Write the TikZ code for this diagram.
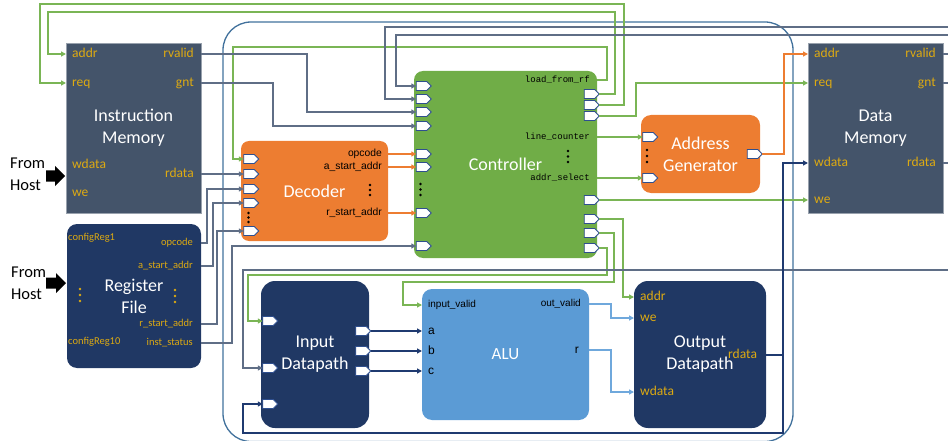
\documentclass[tikz,border=0pt]{standalone}
\usepackage{fontspec}
\setmainfont{Carlito}
\newfontfamily\arialf{Liberation Sans}
\newfontfamily\monof{Liberation Mono}
\usetikzlibrary{shapes.symbols,arrows.meta}
\definecolor{slateblk}{HTML}{44546A}
\definecolor{navyblk}{HTML}{203864}
\definecolor{orangeblk}{HTML}{ED7D31}
\definecolor{greenblk}{HTML}{70AD47}
\definecolor{alublk}{HTML}{5B9BD5}
\definecolor{goldtxt}{HTML}{DDAA12}
\definecolor{outerblue}{HTML}{41719C}
\definecolor{portedge}{HTML}{2F4F8F}
\definecolor{gconn}{HTML}{7AB555}
\definecolor{sconn}{HTML}{5F6E86}
\definecolor{oconn}{HTML}{ED7D31}
\definecolor{nconn}{HTML}{1F3A70}
\definecolor{bconn}{HTML}{6FA8DC}
\begin{document}
\begin{tikzpicture}[x=1pt,y=-1pt,
  blk/.style={inner sep=0pt, outer sep=0pt, text=white, align=center, font=\fontsize{18}{22}\selectfont},
  lbl/.style={text=goldtxt, inner sep=0pt, text height=9.5pt, text depth=3pt, font=\fontsize{13.5}{15}\selectfont},
  rflbl/.style={text=goldtxt, inner sep=0pt, text height=7.4pt, text depth=2.3pt, font=\fontsize{10.5}{12}\selectfont},
  declbl/.style={inner sep=0pt, text height=8pt, text depth=2.6pt, font=\arialf\fontsize{10.3}{12}\selectfont},
  ctllbl/.style={inner sep=0pt, text height=7pt, text depth=2.2pt, font=\monof\fontsize{9}{11}\selectfont},
  alulbl/.style={inner sep=0pt, text height=8pt, text depth=2.6pt, font=\arialf\fontsize{10}{12}\selectfont},
  alupin/.style={inner sep=0pt, text height=9pt, text depth=2.8pt, font=\arialf\fontsize{12}{14}\selectfont},
  hostlbl/.style={inner sep=0pt, align=left, font=\fontsize{16.5}{22}\selectfont},
  port/.style={shape=signal, signal to=east, draw=portedge, fill=white, line width=0.9pt,
    minimum width=15pt, minimum height=9pt, inner sep=0pt, outer sep=0pt},
  cg/.style={draw=gconn, line width=1.2pt},
  cs/.style={draw=sconn, line width=1.2pt},
  co/.style={draw=oconn, line width=1.2pt},
  cn/.style={draw=nconn, line width=1.6pt},
  cb/.style={draw=bconn, line width=1.2pt},
  arr/.style={-{Triangle[length=5pt,width=5pt]}},
  dotk/.style={fill=black},
  dotg/.style={fill=goldtxt}
]
\useasboundingbox (0,0) rectangle (948,441);

% outer frame
\draw[outerblue, line width=1.3pt, rounded corners=28pt] (223,22) rectangle (793,441.5);

% blocks
\node[blk, fill=slateblk, draw=slateblk!55!white, line width=0.8pt, minimum width=135pt, minimum height=170pt] (im) at (133.5,128) {Instruction\\Memory};
\node[blk, fill=slateblk, draw=slateblk!55!white, line width=0.8pt, minimum width=135pt, minimum height=170pt] (dm) at (875.5,128) {Data\\Memory};
\node[blk, fill=navyblk, rounded corners=10pt, minimum width=134pt, minimum height=144pt] (rf) at (134,296) {Register\\File};
\node[blk, fill=orangeblk, rounded corners=8pt, minimum width=147pt, minimum height=100pt] (dec) at (314.5,191) {Decoder};
\node[blk, fill=greenblk, rounded corners=9pt, minimum width=183pt, minimum height=187pt] (ctl) at (505.5,164.5) {Controller};
\node[blk, fill=orangeblk, rounded corners=10pt, minimum width=119pt, minimum height=78pt] (ag) at (700.5,154) {Address\\Generator};
\node[blk, fill=navyblk, rounded corners=14pt, minimum width=108pt, minimum height=147pt] (idp) at (315,354.5) {Input\\Datapath};
\node[blk, fill=alublk, rounded corners=10pt, minimum width=167pt, minimum height=131pt, font=\fontsize{17}{20}\selectfont] (alu) at (505.5,354.5) {ALU};
\node[blk, fill=navyblk, rounded corners=14pt, minimum width=132pt, minimum height=147pt] (odp) at (700,354.5) {Output\\Datapath};

% From Host
\node[hostlbl, anchor=west] (host1) at (10,174) {From\\Host};
\node[hostlbl, anchor=west] (host2) at (11,283) {From\\Host};
\fill[black] (46,170.5) -- (55,170.5) -- (55,166) -- (65,176) -- (55,186) -- (55,181.5) -- (46,181.5) -- cycle;
\fill[black] (46,277.5) -- (56,277.5) -- (56,273) -- (66,283) -- (56,293) -- (56,288.5) -- (46,288.5) -- cycle;

% IM labels
\node[lbl, anchor=west] (imaddr) at (72,54) {addr};
\node[lbl, anchor=west] (imreq) at (72,83) {req};
\node[lbl, anchor=east] (imrvalid) at (194,54) {rvalid};
\node[lbl, anchor=east] (imgnt) at (194,83) {gnt};
\node[lbl, anchor=west] (imwdata) at (72,165) {wdata};
\node[lbl, anchor=east] (imrdata) at (194,174) {rdata};
\node[lbl, anchor=west] (imwe) at (72,193) {we};
% DM labels
\node[lbl, anchor=west] (dmaddr) at (814,54) {addr};
\node[lbl, anchor=west] (dmreq) at (814,83) {req};
\node[lbl, anchor=west] (dmwdata) at (814,163) {wdata};
\node[lbl, anchor=west] (dmwe) at (814,200) {we};
\node[lbl, anchor=east] (dmrvalid) at (936,54) {rvalid};
\node[lbl, anchor=east] (dmgnt) at (936,83) {gnt};
\node[lbl, anchor=east] (dmrdata) at (936,163) {rdata};
% RF labels
\node[rflbl, anchor=west] (rfc1) at (68,238) {configReg1};
\node[rflbl, anchor=east] (rfop) at (193,243) {opcode};
\node[rflbl, anchor=east] (rfa) at (193,266) {a\_start\_addr};
\node[rflbl, anchor=east] (rfr) at (193,324) {r\_start\_addr};
\node[rflbl, anchor=west] (rfc10) at (68,342) {configReg10};
\node[rflbl, anchor=east] (rfis) at (193,343) {inst\_status};
% Decoder labels
\node[declbl, anchor=east] (dop) at (382,154) {opcode};
\node[declbl, anchor=east] (dasa) at (382,167) {a\_start\_addr};
\node[declbl, anchor=east] (drsa) at (382,213) {r\_start\_addr};
% Controller labels
\node[ctllbl, anchor=east] (cload) at (590,80) {load\_from\_rf};
\node[ctllbl, anchor=east] (clc) at (590,137) {line\_counter};
\node[ctllbl, anchor=east] (cas) at (590,178) {addr\_select};
% ALU labels
\node[alulbl, anchor=west] (aluiv) at (428,305) {input\_valid};
\node[alulbl, anchor=east] (aluov) at (581,304) {out\_valid};
\node[alupin, anchor=west] (alua) at (428,331) {a};
\node[alupin, anchor=west] (alub) at (428,351) {b};
\node[alupin, anchor=west] (aluc) at (428,371) {c};
\node[alupin, anchor=east] (alur) at (579,350) {r};
% OD labels
\node[lbl, anchor=west] (odaddr) at (640,297) {addr};
\node[lbl, anchor=west] (odwe) at (640,318) {we};
\node[lbl, anchor=west] (odwdata) at (640,392) {wdata};
\node[lbl, anchor=west] (odrd) at (728,355) {rdata};

% dots
\foreach \yy in {213,217.5,222} \fill[dotk] (248.5,\yy) circle (1.4pt);
\foreach \yy in {185,190,195} \fill[dotk] (370,\yy) circle (1.4pt);
\foreach \yy in {184,189.5,195} \fill[dotk] (420.5,\yy) circle (1.4pt);
\foreach \yy in {151,156.5,162} \fill[dotk] (568,\yy) circle (1.4pt);
\foreach \yy in {150,156,162} \fill[dotk] (647,\yy) circle (1.4pt);
\foreach \yy in {289,295,301} \fill[dotg] (80,\yy) circle (1.4pt);
\foreach \yy in {290,296,302} \fill[dotg] (175,\yy) circle (1.4pt);

% ports
\node[port] (dP1) at (249,159) {};
\node[port] (dP2) at (249,174) {};
\node[port] (dP3) at (249,189) {};
\node[port] (dP4) at (249,203) {};
\node[port] (dP5) at (249,231) {};
\node[port] (cL1) at (421.5,86) {};
\node[port] (cL2) at (421.5,99) {};
\node[port] (cL3) at (421.5,112) {};
\node[port] (cL4) at (421.5,126) {};
\node[port] (cL5) at (421.5,154) {};
\node[port] (cL6) at (421.5,167) {};
\node[port] (cL7) at (421.5,213) {};
\node[port] (cL8) at (421.5,246) {};
\node[port] (cR1) at (589.5,94) {};
\node[port] (cR2) at (589.5,105) {};
\node[port] (cR3) at (589.5,116) {};
\node[port] (cR4) at (589.5,200) {};
\node[port] (cR5) at (589.5,219) {};
\node[port] (cR6) at (589.5,233) {};
\node[port] (cR7) at (589.5,248) {};
\node[port] (agP1) at (648,137) {};
\node[port] (agP2) at (648,178) {};
\node[port] (agO) at (752.5,154) {};
\node[port] (iP1) at (268,321) {};
\node[port] (iP2) at (268,368) {};
\node[port] (iP3) at (268,404) {};
\node[port] (iO1) at (361,331) {};
\node[port] (iO2) at (361,351) {};
\node[port] (iO3) at (361,371) {};

% free ends at the right edge
\coordinate (eA) at (948,27);
\coordinate (eB) at (948,35);
\coordinate (eC) at (948,54);
\coordinate (eD) at (948,83);
\coordinate (eE) at (948,163);
\coordinate (eF) at (948,270);
\coordinate (busj) at (783,355);

% green connectors
\draw[cg,arr] (cR1.east) -| (615,12) -| (48,54) -- (im.west |- imaddr);
\draw[cg,arr] (cR2.east) -| (624,4) -| (40,83) -- (im.west |- imreq);
\draw[cg,arr] (cR3.east) -| (636,83) -- (dm.west |- dmreq);
\draw[cg,arr] (ctl.east |- cload) -| (607,47) -| (233,159) -- (dP1.west);
\draw[cg,arr] (ctl.east |- clc) -- (agP1.west);
\draw[cg,arr] (ctl.east |- cas) -- (agP2.west);
\draw[cg,arr] (cR4.east) -- (dm.west |- dmwe);
\draw[cg,arr] (cR5.east) -| (623,297) -- (odp.west |- odaddr);
\draw[cg,arr] (cR6.east) -| (614,282) -| (403,305) -- (alu.west |- aluiv);
\draw[cg,arr] (cR7.east) -| (607,275) -| (248,321) -- (iP1.west);

% slate connectors
\draw[cs,arr] (im.east |- imrvalid) -| (307,112) -- (cL3.west);
\draw[cs,arr] (im.east |- imgnt) -| (273,126) -- (cL4.west);
\draw[cs,arr] (eA) -| (385,99) -- (cL2.west);
\draw[cs,arr] (eB) -| (396,86) -- (cL1.west);
\draw[cs] (dm.east |- dmrvalid) -- (eC);
\draw[cs] (dm.east |- dmgnt) -- (eD);
\draw[cs] (dm.east |- dmrdata) -- (eE);
\draw[cs,arr] (eF) -| (243,368) -- (iP2.west);
\draw[cs,arr] (im.east |- imrdata) -- (dP2.west);
\draw[cs,arr] (rf.east |- rfop) -| (207,189) -- (dP3.west);
\draw[cs,arr] (rf.east |- rfa) -| (213,203) -- (dP4.west);
\draw[cs,arr] (rf.east |- rfr) -| (217,231) -- (dP5.west);
\draw[cs,arr] (rf.east |- rfis) -| (232,246) -- (cL8.west);

% orange connectors
\draw[co,arr] (dec.east |- dop) -- (cL5.west);
\draw[co,arr] (dec.east |- dasa) -- (cL6.west);
\draw[co,arr] (dec.east |- drsa) -- (cL7.west);
\draw[co,arr] (agO.east) -| (784,54) -- (dm.west |- dmaddr);

% navy connectors
\draw[cn,arr] (iO1.east) -- (alu.west |- alua);
\draw[cn,arr] (iO2.east) -- (alu.west |- alub);
\draw[cn,arr] (iO3.east) -- (alu.west |- aluc);
\draw[cn,arr] (odp.east |- odrd) -| (783,163) -- (dm.west |- dmwdata);
\draw[cn,arr] (busj) |- (243,433) |- (iP3.west);

% light blue connectors
\draw[cb,arr] (alu.east |- aluov) -| (611,318) -- (odp.west |- odwe);
\draw[cb,arr] (alu.east |- alur) -| (611,392) -- (odp.west |- odwdata);
\end{tikzpicture}
\end{document}
